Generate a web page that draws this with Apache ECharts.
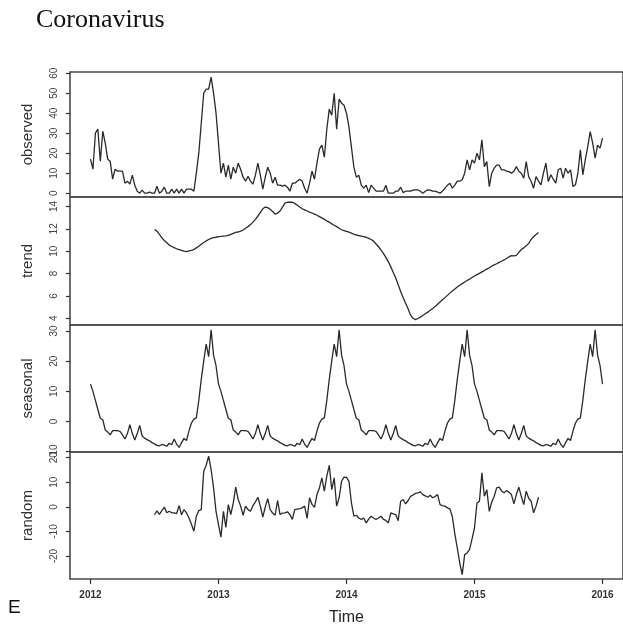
<!DOCTYPE html>
<html>
<head>
<meta charset="utf-8">
<script src="https://cdn.jsdelivr.net/npm/echarts@6/dist/echarts.min.js"></script>
<style>
html,body{margin:0;padding:0;background:#fff;}
#chart{width:623px;height:632px;}
</style>
</head>
<body>
<div id="chart"></div>
<script>
// ---- data (weekly series, frequency 52, starting 2012) ----
const startYear = 2012;
const frequency = 52;
const panelNames = ['observed', 'trend', 'seasonal', 'random'];
const xTickYears = [2012, 2013, 2014, 2015, 2016];
const observedTicks = [0, 10, 20, 30, 40, 50, 60];
const trendTicks = [4, 6, 8, 10, 12, 14];
const seasonalTicks = [-10, 0, 10, 20, 30];
const randomTicks = [-20, -10, 0, 10, 20];

const observed = [
  17,12,30,32,16,31,25,17,16,7,
  12,11,11,11,5,6,4.5,9,4,1,
  0,1.5,0,0,0.5,0,0,3.5,0,1,
  3,0,0,2,0,2,0,2,0,2,
  2,2,1,10,20,35,50,52,52,58,
  50,40,25,10,15,8,14,7,13,10,
  15,12,8,6,8.5,6,4.5,9,15,9,
  2,8,13,10,5,8,4,4,3.5,4,
  3,1,5,5,6,7,6,2.5,0,5,
  11,7,15,22,24,18,32,42,39,50,
  32,47,45,44,40,33,23,13,8,9,
  4,2.5,4,0.3,4,2.5,1,1,1,1,
  4,0,0,0,1,1,3,0.3,1,1,
  1,1.5,1.7,1.7,1,0,1,1.7,1.5,1,
  1,0.5,0,1,2.5,4,5,2.5,4,6,
  6,6.7,10,16.7,11.7,16.7,15,20,16.7,26.7,
  13.3,15.8,3.3,10,12.5,14,14,11.7,11.7,11,
  10.8,10,11,13.3,11,10,7.5,15.8,8.3,6,
  2.5,8.3,6,4.2,10,15,5.8,9.2,7,5,
  11.7,12.5,7.5,12.5,10,11.7,3.3,4.2,10,21.7,
  9.2,16.7,23.3,30.8,25,17.5,24,22.5,27.5
];

// trend and random are defined from week index 26 to 182
const trendStart = 26;
const trend = [
  11.95,11.8,11.5,11.2,10.95,10.75,10.55,10.42,10.32,10.22,
  10.15,10.08,10.0,9.96,10.02,10.08,10.15,10.3,10.45,10.62,
  10.78,10.92,11.05,11.15,11.22,11.25,11.3,11.32,11.35,11.38,
  11.42,11.5,11.6,11.68,11.72,11.8,11.9,12.05,12.2,12.38,
  12.6,12.85,13.15,13.45,13.8,13.95,13.9,13.75,13.55,13.32,
  13.4,13.6,13.95,14.3,14.38,14.4,14.38,14.28,14.12,13.95,
  13.8,13.7,13.6,13.5,13.42,13.32,13.22,13.1,12.98,12.85,
  12.72,12.6,12.45,12.32,12.2,12.05,11.92,11.85,11.78,11.7,
  11.62,11.52,11.45,11.4,11.35,11.3,11.25,11.15,11.05,10.9,
  10.65,10.4,10.1,9.8,9.45,9.05,8.6,8.1,7.6,7.0,
  6.4,5.85,5.35,4.85,4.3,4.0,3.88,3.98,4.1,4.25,
  4.4,4.55,4.72,4.88,5.05,5.25,5.45,5.65,5.85,6.05,
  6.25,6.45,6.62,6.8,6.95,7.1,7.25,7.38,7.5,7.65,
  7.78,7.9,8.02,8.15,8.27,8.4,8.52,8.65,8.78,8.88,
  9.0,9.1,9.22,9.35,9.5,9.6,9.58,9.62,9.9,10.15,
  10.3,10.48,10.7,11.05,11.3,11.5,11.68
];

const seasonal = [
  12.4,10.0,7.0,4.0,1.1,0.6,-2.8,-3.5,-4.4,-3.0,
  -3.0,-3.0,-3.3,-4.4,-5.8,-4.0,-1.0,-4.0,-6.1,-4.0,
  -1.3,-4.8,-5.5,-6.0,-6.4,-7.0,-7.4,-7.9,-8.1,-7.6,
  -7.8,-8.2,-7.2,-7.7,-5.8,-7.5,-8.6,-7.0,-5.6,-6.3,
  -3.2,-0.5,0.8,1.2,7.0,14.0,20.0,25.7,21.5,30.4,
  22.0,18.5,
  12.4,10.0,7.0,4.0,1.1,0.6,-2.8,-3.5,-4.4,-3.0,
  -3.0,-3.0,-3.3,-4.4,-5.8,-4.0,-1.0,-4.0,-6.1,-4.0,
  -1.3,-4.8,-5.5,-6.0,-6.4,-7.0,-7.4,-7.9,-8.1,-7.6,
  -7.8,-8.2,-7.2,-7.7,-5.8,-7.5,-8.6,-7.0,-5.6,-6.3,
  -3.2,-0.5,0.8,1.2,7.0,14.0,20.0,25.7,21.5,30.4,
  22.0,18.5,
  12.4,10.0,7.0,4.0,1.1,0.6,-2.8,-3.5,-4.4,-3.0,
  -3.0,-3.0,-3.3,-4.4,-5.8,-4.0,-1.0,-4.0,-6.1,-4.0,
  -1.3,-4.8,-5.5,-6.0,-6.4,-7.0,-7.4,-7.9,-8.1,-7.6,
  -7.8,-8.2,-7.2,-7.7,-5.8,-7.5,-8.6,-7.0,-5.6,-6.3,
  -3.2,-0.5,0.8,1.2,7.0,14.0,20.0,25.7,21.5,30.4,
  22.0,18.5,
  12.4,10.0,7.0,4.0,1.1,0.6,-2.8,-3.5,-4.4,-3.0,
  -3.0,-3.0,-3.3,-4.4,-5.8,-4.0,-1.0,-4.0,-6.1,-4.0,
  -1.3,-4.8,-5.5,-6.0,-6.4,-7.0,-7.4,-7.9,-8.1,-7.6,
  -7.8,-8.2,-7.2,-7.7,-5.8,-7.5,-8.6,-7.0,-5.6,-6.3,
  -3.2,-0.5,0.8,1.2,7.0,14.0,20.0,25.7,21.5,30.4,
  22.0,18.5,
  12.4
];

const random = [
  -3.2,-1.6,-3.0,-1.5,-0.1,-2.4,-1.8,-2.4,-2.4,-2.7,
  0.5,-3.2,-1.1,-2.4,-4.5,-7.0,-9.9,-3.8,-1.5,-1.1,
  14.5,16.9,20.6,15.2,7.7,-1.8,-7.2,-12.3,-1.8,-8.3,
  0.9,-3.1,1.6,8.0,3.0,0.3,-3.4,0.3,-1.1,-1.8,
  0.5,2.0,3.9,0.3,-4.2,0,3.3,-1.1,-2.5,-3.4,
  2.6,-3.1,-2.5,-2.4,-2.0,-3.1,-5.1,-1.1,-0.9,-0.7,
  -0.4,0.3,-4.7,3.7,1.0,-0.2,5.0,7.7,11.8,6.4,
  12.5,16.9,7.0,11.8,0.3,3.7,10.4,12.1,12.0,10.4,
  1.6,-3.8,-3.4,-4.5,-5.1,-4.5,-6.5,-5.0,-3.8,-4.5,
  -5.1,-4.5,-3.8,-5.1,-5.5,-6.5,-2.4,-2.8,-3.1,-5.6,
  2.3,3.0,1.2,2.5,4.3,4.8,5.5,5.7,6.1,5.0,
  4.5,3.9,4.7,3.7,4.2,5.0,0.9,0.5,0.3,-0.4,
  -0.8,-4.0,-11.0,-16.7,-22.8,-27.5,-19.4,-18.7,-17.3,-13.0,
  -8.5,1.6,2.3,13.8,4.3,7.0,-1.8,2.0,4.3,7.7,
  8.0,6.5,5.7,6.6,6.0,5.0,1.2,5.0,8.0,4.3,
  0.9,6.4,3.5,2.3,-2.4,0.3,3.9
];

// ---- build chart ----
const toPairs = (arr, offset) => arr.map((v, i) => [startYear + (i + offset) / frequency, v]);
const seriesData = [toPairs(observed, 0), toPairs(trend, trendStart), toPairs(seasonal, 0), toPairs(random, trendStart)];
const yTicks = [observedTicks, trendTicks, seasonalTicks, randomTicks];
const yRanges = [[-1.9, 60.6], [3.4, 14.85], [-10.1, 32.0], [-29.3, 22.3]];
const gridBoxes = [[72, 125], [197, 128], [325, 127], [452, 127]];

const LINE = '#2a2a2a';
const FONT = 'Liberation Sans, Arial, sans-serif';

const grids = gridBoxes.map(([top, h]) => ({
  left: 70, width: 556, top: top, height: h,
  show: true, borderColor: '#4a4a4a', borderWidth: 1.6, backgroundColor: 'transparent'
}));

const xAxes = gridBoxes.map((g, k) => {
  const last = k === gridBoxes.length - 1;
  return {
    type: 'value', gridIndex: k, min: 2011.84, max: 2016.16, position: 'bottom',
    axisLine: { show: false, onZero: false },
    splitLine: { show: false },
    axisTick: { show: last, customValues: xTickYears, length: 5, lineStyle: { color: '#333', width: 1.2 } },
    axisLabel: { show: last, customValues: xTickYears, margin: 11, fontSize: 10, fontWeight: 'bold', color: '#333', fontFamily: FONT, formatter: v => String(v) },
    name: last ? 'Time' : '',
    nameLocation: 'middle', nameGap: 31,
    nameTextStyle: { fontSize: 16, color: '#222', fontFamily: FONT }
  };
});

const yAxes = gridBoxes.map((g, k) => ({
  type: 'value', gridIndex: k, min: yRanges[k][0], max: yRanges[k][1], position: 'left',
  axisLine: { show: false, onZero: false },
  splitLine: { show: false },
  axisTick: { show: true, customValues: yTicks[k], length: 4, lineStyle: { color: '#333', width: 1.2 } },
  axisLabel: { customValues: yTicks[k], rotate: 90, margin: 11, fontSize: 10, color: '#444', fontFamily: FONT, formatter: v => String(v) },
  name: panelNames[k], nameLocation: 'middle', nameGap: 35,
  nameTextStyle: { fontSize: 15, color: '#333', fontFamily: FONT }
}));

const series = seriesData.map((d, k) => ({
  type: 'line', xAxisIndex: k, yAxisIndex: k, data: d,
  showSymbol: false, symbol: 'none', animation: false,
  lineStyle: { color: LINE, width: 1.3 }
}));

const chart = echarts.init(document.getElementById('chart'), null, { renderer: 'canvas' });
chart.setOption({
  animation: false,
  backgroundColor: '#fff',
  title: {
    text: 'Coronavirus', left: 36, top: 7, padding: 0,
    textStyle: { fontFamily: 'Liberation Serif, Times New Roman, serif', fontSize: 26, fontWeight: 'normal', color: '#111' }
  },
  graphic: [{
    type: 'text', left: 8, top: 598,
    style: { text: 'E', fontSize: 19, fontFamily: FONT, fill: '#111' }
  }],
  grid: grids,
  xAxis: xAxes,
  yAxis: yAxes,
  series: series
});
</script>
</body>
</html>
